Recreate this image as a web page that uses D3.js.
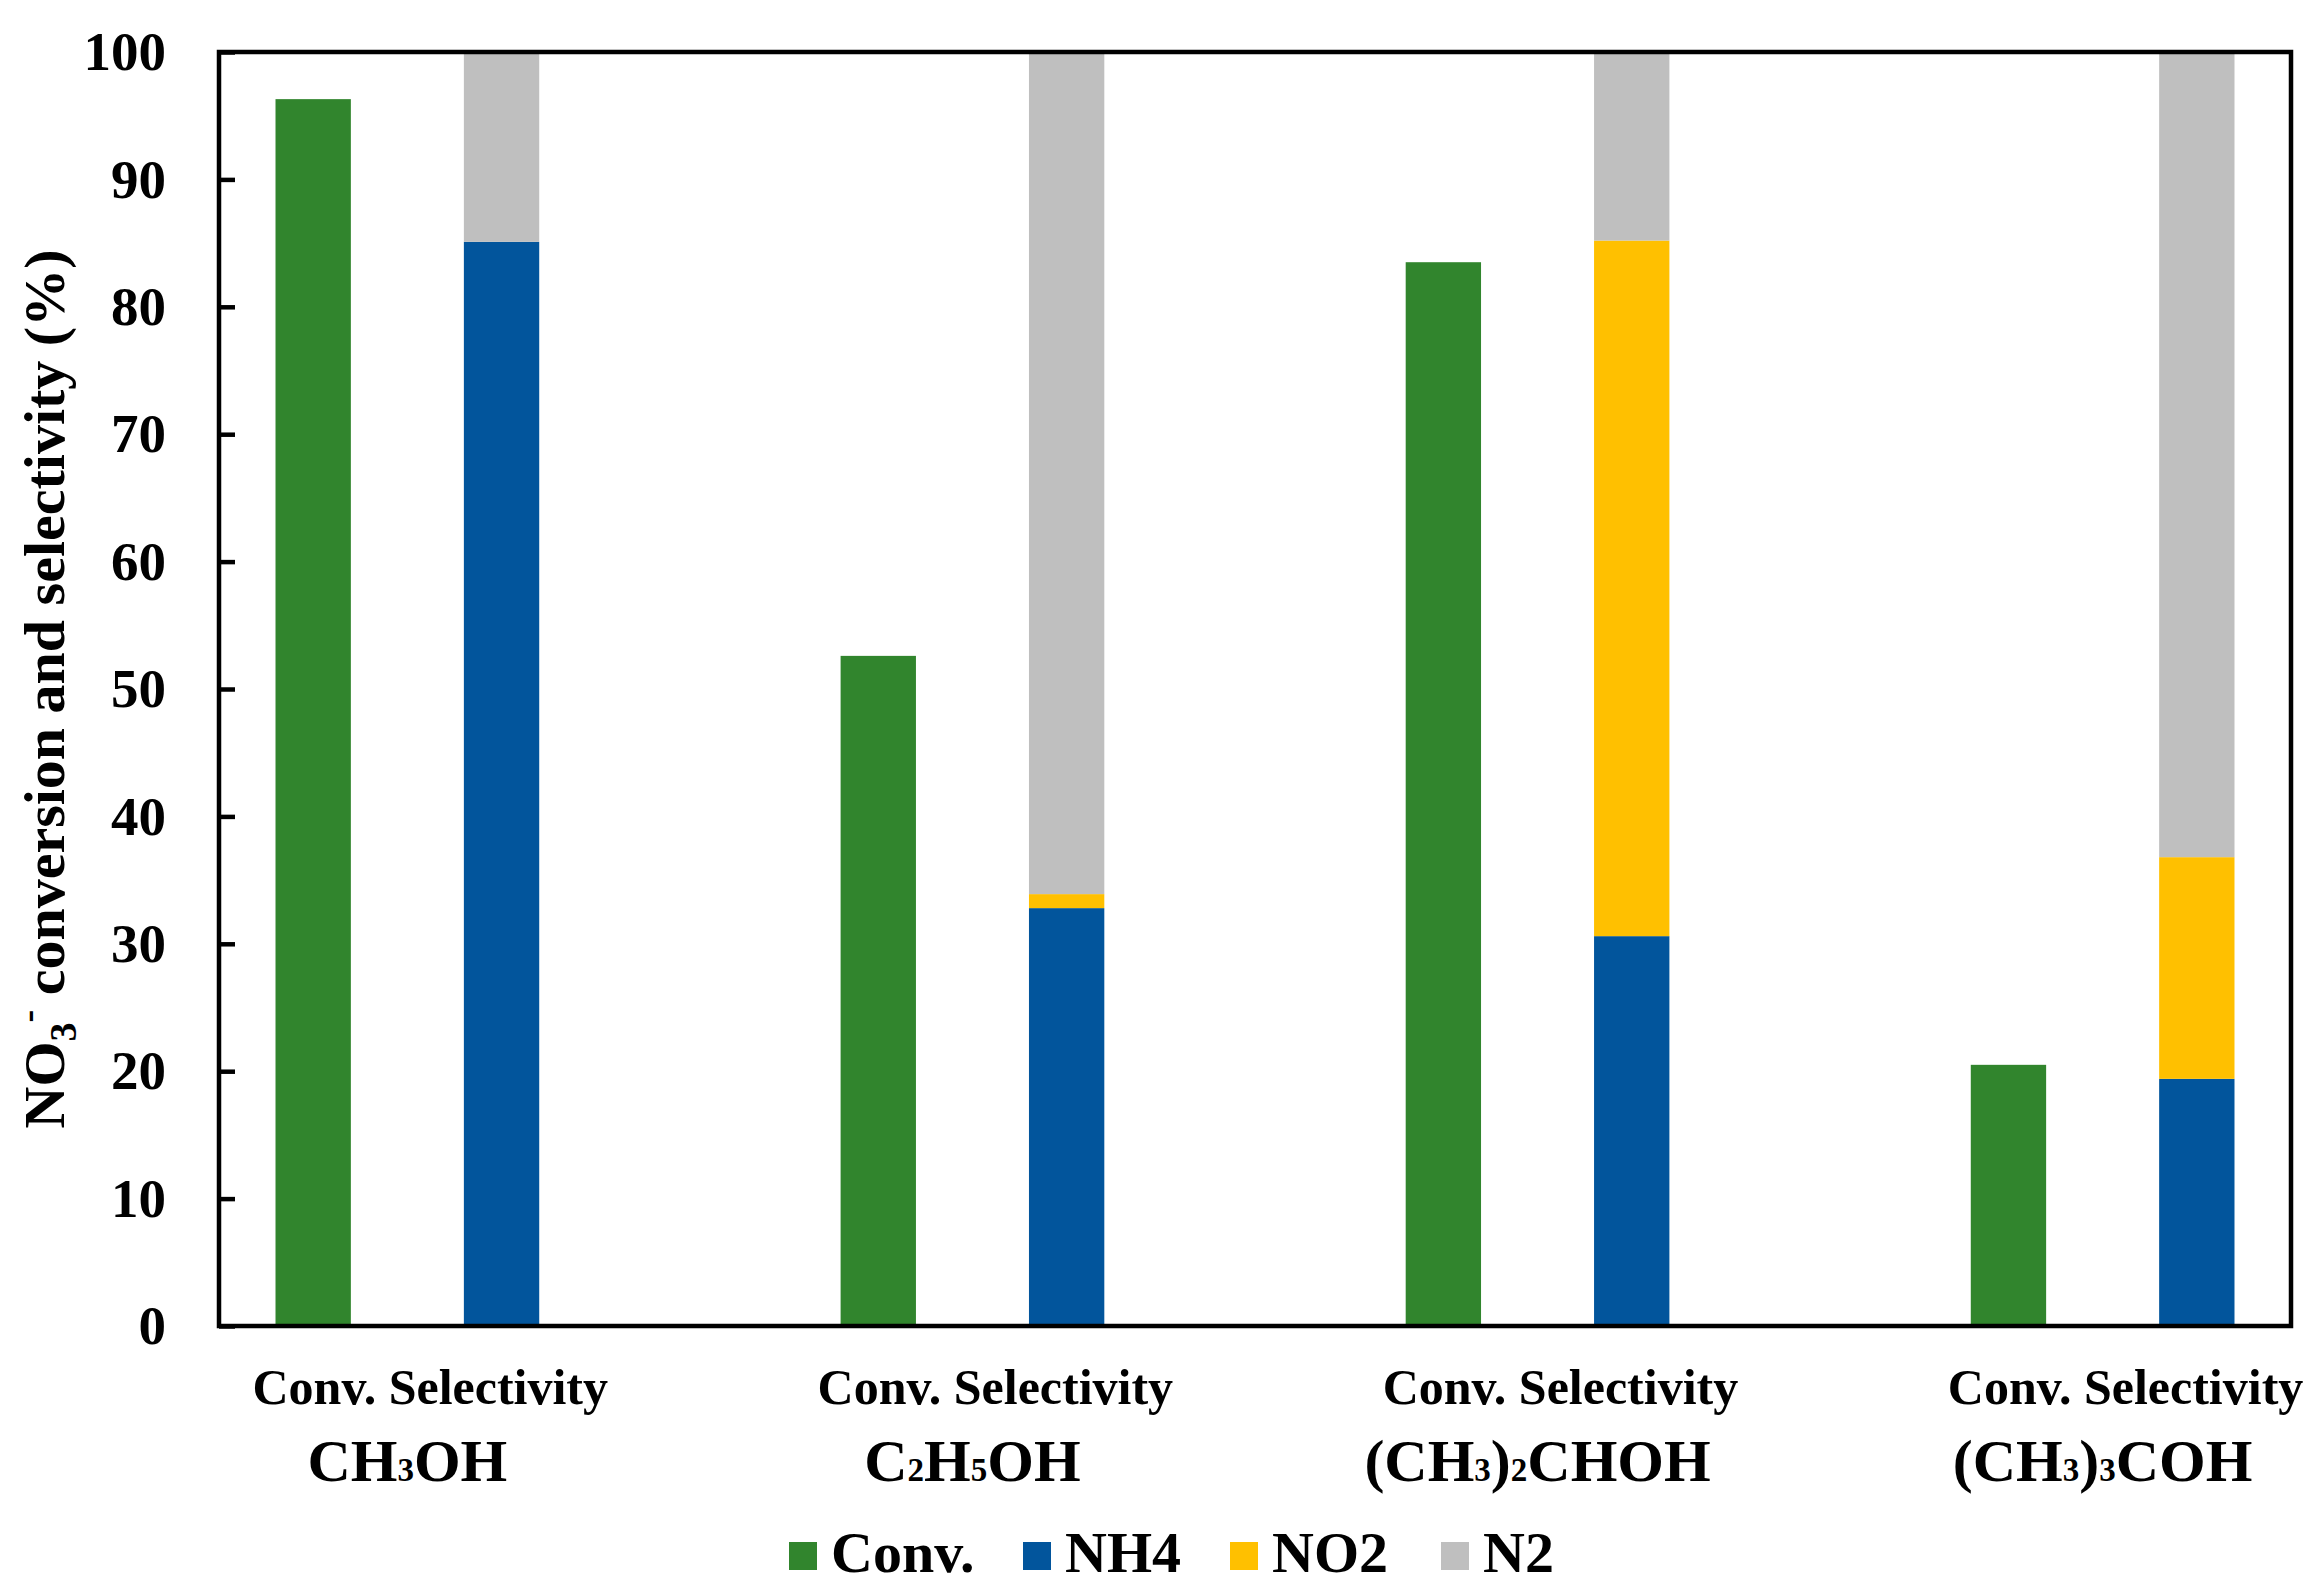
<!DOCTYPE html>
<html>
<head>
<meta charset="utf-8">
<script src="https://cdn.jsdelivr.net/npm/d3@7"></script>
<style>
  body { margin: 0; background: #fff; }
  text { font-family: "Liberation Serif", "Times New Roman", serif; font-weight: bold; fill: #000; }
</style>
</head>
<body>
<div id="chart"></div>
<script>
const alcohols = ["CH3OH", "C2H5OH", "(CH3)2CHOH", "(CH3)3COH"];
const conversion = [96.3, 52.6, 83.5, 20.5];
const nh4 = [85.1, 32.8, 30.6, 19.4];
const no2 = [0, 1.1, 54.6, 17.4];
const n2 = [14.9, 66.1, 14.8, 63.2];
const barLabel = "Conv. Selectivity";
const seriesNames = ["Conv.", "NH4", "NO2", "N2"];
const seriesColors = ["#31852d", "#02559c", "#ffc000", "#bfbfbf"];
const yTicks = [0, 10, 20, 30, 40, 50, 60, 70, 80, 90, 100];

const width = 2318, height = 1595;
const margin = { top: 52, right: 27, bottom: 269, left: 219 };

const svg = d3.select("#chart").append("svg")
    .attr("width", width).attr("height", height);

// 11 slots: conv, selectivity, gap, conv, selectivity, gap ...
const x = d3.scaleBand()
    .domain(d3.range(11))
    .range([margin.left, width - margin.right])
    .paddingInner(0.6)
    .paddingOuter(0.3);

const y = d3.scaleLinear()
    .domain([0, 100])
    .range([height - margin.bottom, margin.top]);

// conversion bars
svg.selectAll(".conv-bar")
    .data(conversion)
    .enter()
    .append("rect")
    .attr("x", (d, i) => x(i * 3))
    .attr("y", d => y(d))
    .attr("width", x.bandwidth())
    .attr("height", d => y(0) - y(d))
    .attr("fill", seriesColors[0]);

// selectivity stacks
const stackRows = alcohols.map((a, i) => ({ i, nh4: nh4[i], no2: no2[i], n2: n2[i] }));
const stacked = d3.stack().keys(["nh4", "no2", "n2"])(stackRows);

stacked.forEach((layer, k) => {
    svg.selectAll(".sel-" + layer.key)
        .data(layer)
        .enter()
        .append("rect")
        .attr("x", d => x(d.data.i * 3 + 1))
        .attr("y", d => y(d[1]))
        .attr("width", x.bandwidth())
        .attr("height", d => y(d[0]) - y(d[1]))
        .attr("fill", seriesColors[k + 1]);
});

// y axis, ticks pointing inward
const yAxis = d3.axisLeft(y)
    .tickValues(yTicks)
    .tickSizeInner(-16)
    .tickSizeOuter(0)
    .tickPadding(53);

const gy = svg.append("g")
    .attr("transform", `translate(${margin.left},0)`)
    .call(yAxis);
gy.select(".domain").remove();
gy.selectAll(".tick line").attr("stroke", "#000").attr("stroke-width", 4.5);
gy.selectAll(".tick text")
    .attr("font-size", 55)
    .attr("font-family", "Liberation Serif, serif")
    .attr("font-weight", "bold")
    .attr("fill", "#000");

// plot frame
svg.append("rect")
    .attr("x", margin.left)
    .attr("y", margin.top)
    .attr("width", width - margin.right - margin.left)
    .attr("height", height - margin.bottom - margin.top)
    .attr("fill", "none")
    .attr("stroke", "#000")
    .attr("stroke-width", 4.5);

// "Conv. Selectivity" under each pair of bars
alcohols.forEach((a, g) => {
    svg.append("text")
        .attr("x", x(g * 3) - 23)
        .attr("y", 1404)
        .attr("font-size", 50)
        .text(barLabel);
});

// alcohol names with subscript digits
function chemText(sel, str, size) {
    str.split(/(\d+)/).forEach(part => {
        if (!part) return;
        const isNum = /^\d+$/.test(part);
        sel.append("tspan")
            .attr("font-size", isNum ? size * 0.55 : size)
            .text(part);
    });
}

alcohols.forEach((a, g) => {
    const cx = (x(g * 3) + x(g * 3 + 1) + x.bandwidth()) / 2;
    const t = svg.append("text")
        .attr("x", cx)
        .attr("y", 1481)
        .attr("text-anchor", "middle");
    chemText(t, a, 60);
});

// y axis title
const title = svg.append("text")
    .attr("transform", `translate(64,${(y(0) + y(100)) / 2}) rotate(-90)`)
    .attr("text-anchor", "middle")
    .attr("font-size", 58);
title.append("tspan").text("NO");
title.append("tspan").attr("font-size", 38).attr("dy", 12).text("3");
title.append("tspan").attr("font-size", 38).attr("dy", -36).text("-");
title.append("tspan").attr("dy", 24).text(" conversion and selectivity (%)");

// legend
const legendX = [789, 1023, 1230, 1441];
const legend = svg.append("g");
seriesNames.forEach((name, i) => {
    legend.append("rect")
        .attr("x", legendX[i])
        .attr("y", 1542)
        .attr("width", 28)
        .attr("height", 28)
        .attr("fill", seriesColors[i]);
    legend.append("text")
        .attr("x", legendX[i] + 42)
        .attr("y", 1572)
        .attr("font-size", 58)
        .text(name);
});
</script>
</body>
</html>
